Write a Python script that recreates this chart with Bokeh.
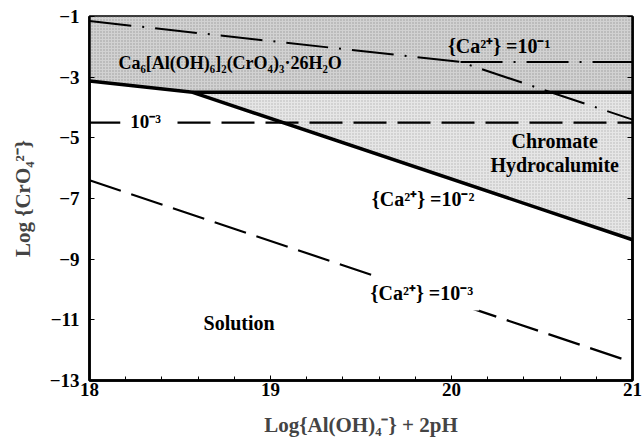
from bokeh.plotting import figure
from bokeh.models import Range1d, FixedTicker, LinearAxis, Label
from bokeh.embed import file_html
from bokeh.resources import INLINE

# ---- data ----
# {Ca2+} = 1e-2 boundary (solid): two-slope line
solid_x = [18.0, 18.57, 21.0]
solid_y = [-3.13, -3.5, -8.36]
# Ca6[Al(OH)6]2(CrO4)3.26H2O / chromate hydrocalumite boundary at {Ca2+}=1e-2
ca6_x = [18.57, 21.0]
ca6_y = [-3.5, -3.5]
# {Ca2+} = 1e-1 (dash-dot)
dd_x = [18.0, 20.05, 21.0]
dd_y = [-1.15, -2.5, -4.40]
dd_h_x = [20.05, 21.0]
dd_h_y = [-2.5, -2.5]
# {Ca2+} = 1e-3 (dashed)
dh_x = [18.0, 21.0]
dh_y = [-4.5, -4.5]
dd3_x = [18.0, 21.0]
dd3_y = [-6.4, -12.4]

x_major = [18, 19, 20, 21]
x_minor = [18.2, 18.4, 18.6, 18.8, 19.2, 19.4, 19.6, 19.8, 20.2, 20.4, 20.6, 20.8]
y_major = [-1, -3, -5, -7, -9, -11, -13]
y_top = -1.0
x_lo, x_hi = 18.0, 21.0
y_lo = -13.0

FONT = "Liberation Serif"

p = figure(width=642, height=444, output_backend="svg", toolbar_location=None,
           x_range=Range1d(x_lo, x_hi), y_range=Range1d(y_lo, y_top),
           min_border_left=89, min_border_right=10, min_border_top=16, min_border_bottom=64)
p.grid.visible = False
p.background_fill_color = "white"
p.outline_line_color = "black"
p.outline_line_width = 2.5

# shaded regions
upper_xs = [solid_x[0], x_hi, x_hi, ca6_x[0], solid_x[0]]
upper_ys = [y_top, y_top, ca6_y[1], ca6_y[0], solid_y[0]]
p.patch(upper_xs, upper_ys, fill_color="#d2d2d2", line_color=None,
        hatch_pattern="dot", hatch_color="#9a9a9a", hatch_scale=3, hatch_weight=1)
tri_xs = [solid_x[1], x_hi, solid_x[2]]
tri_ys = [ca6_y[0], ca6_y[1], solid_y[2]]
p.patch(tri_xs, tri_ys, fill_color="#e6e6e6", line_color=None,
        hatch_pattern="dot", hatch_color="#b4b4b4", hatch_scale=3, hatch_weight=1)

# lines
p.line(solid_x, solid_y, line_color="black", line_width=3.5)
p.line(ca6_x, ca6_y, line_color="black", line_width=3.5)
p.line(dd_x, dd_y, line_color="black", line_width=2, line_dash="42 11 2 11")
p.line(dd_h_x, dd_h_y, line_color="black", line_width=2, line_dash="42 11 2 11")
p.line(dh_x, dh_y, line_color="black", line_width=2.2, line_dash="33 11")
p.line(dd3_x, dd3_y, line_color="black", line_width=2.2, line_dash="33 11")

# axes
for ax in (p.xaxis[0], p.yaxis[0]):
    ax.axis_line_width = 2.5
    ax.major_tick_in = 5
    ax.major_tick_out = 0
    ax.minor_tick_in = 4
    ax.minor_tick_out = 0
    ax.major_label_text_font = FONT
    ax.major_label_text_font_style = "bold"
    ax.major_label_text_font_size = "19px"
    ax.major_label_text_color = "black"
    ax.axis_label_text_font = FONT
    ax.axis_label_text_font_style = "bold"
    ax.axis_label_text_font_size = "21px"

p.xaxis.ticker = FixedTicker(ticks=x_major, minor_ticks=x_minor)
p.yaxis.ticker = FixedTicker(ticks=y_major, minor_ticks=[])
p.xaxis.major_label_standoff = 2
p.yaxis.major_label_standoff = 10
p.xaxis.axis_label = "Log{Al(OH)\u2084\u207b} + 2pH"
p.yaxis.axis_label = "Log {CrO\u2084\u00b2\u207b}"
p.xaxis.axis_label_standoff = 14
p.yaxis.axis_label_standoff = 12

right = LinearAxis(ticker=FixedTicker(ticks=y_major, minor_ticks=[]),
                   major_label_text_font_size="0px", major_tick_in=5, major_tick_out=0,
                   minor_tick_in=0, minor_tick_out=0, axis_line_width=2.5)
p.add_layout(right, "right")

# text labels
def lab(x, y, t, align="left", size="20px", bg=None, pad=0):
    p.add_layout(Label(x=x, y=y, text=t, text_font=FONT, text_font_style="bold",
                       text_font_size=size, text_align=align, text_baseline="middle",
                       text_color="black", background_fill_color=bg, padding=pad))

lab(18.16, -2.52, "Ca\u2086[Al(OH)\u2086]\u2082(CrO\u2084)\u2083\u00b726H\u2082O", size="18px")
lab(19.98, -1.98, "{Ca\u00b2\u207a} =10\u207b\u00b9")
lab(18.31, -4.47, "10\u207b\u00b3", align="center", size="19px", bg="white", pad=10)
lab(20.57, -5.09, "Chromate", align="center")
lab(20.57, -5.91, "Hydrocalumite", align="center")
lab(19.56, -7.0, "{Ca\u00b2\u207a} =10\u207b\u00b2")
lab(19.52, -10.13, "{Ca\u00b2\u207a} =10\u207b\u00b3", bg="white", pad=6)
lab(18.63, -11.12, "Solution")

open("out.html", "w").write(file_html(p, INLINE))
